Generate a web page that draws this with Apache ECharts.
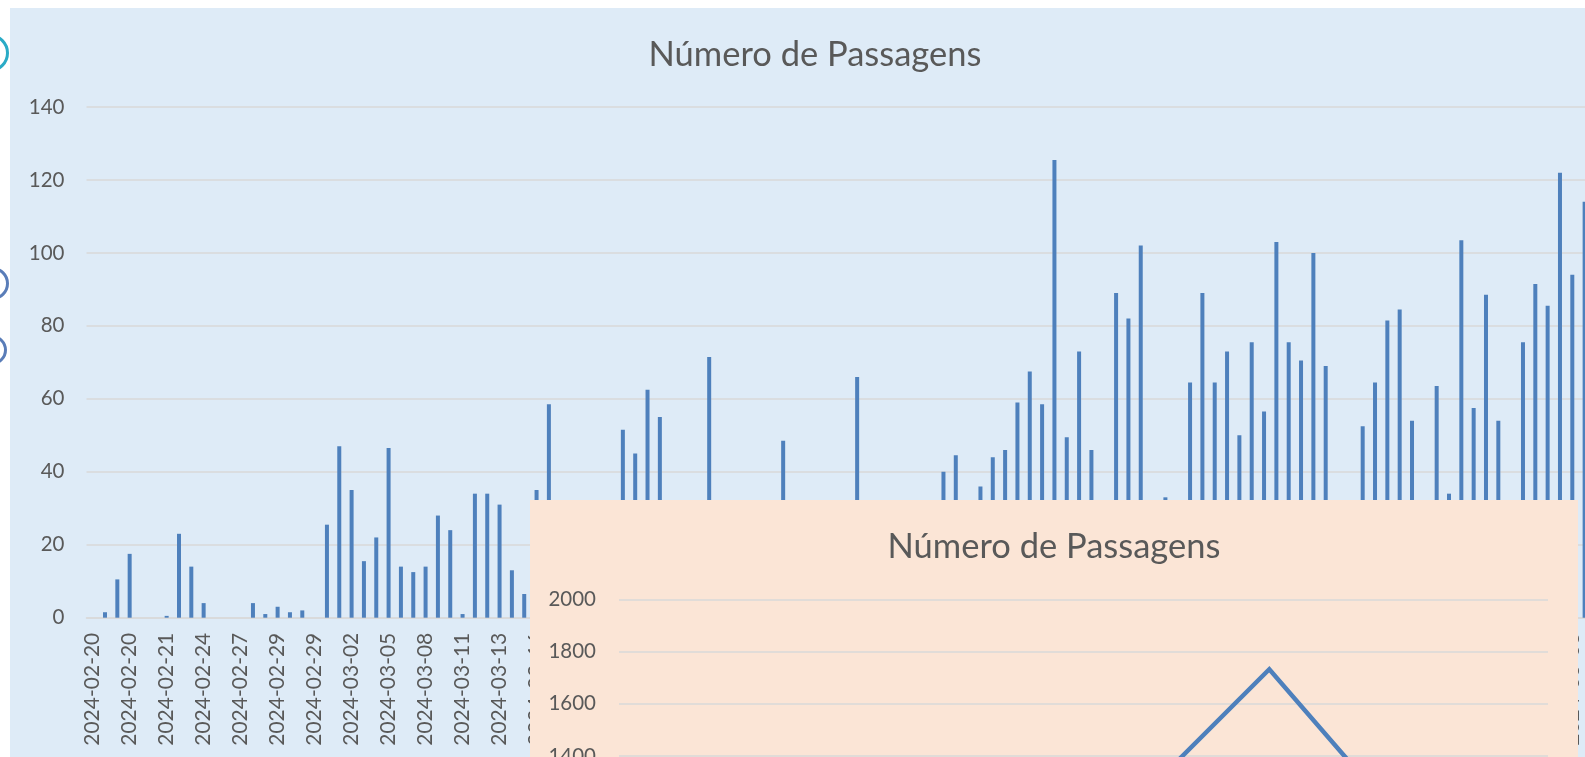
<!DOCTYPE html>
<html>
<head>
<meta charset="utf-8">
<title>Número de Passagens</title>
<script src="https://cdn.jsdelivr.net/npm/echarts@6/dist/echarts.min.js"></script>
<style>
    html, body { margin: 0; padding: 0; width: 1585px; height: 757px; overflow: hidden; background: #ffffff; }
    .ring { position: absolute; border-radius: 50%; box-sizing: border-box; }
    #panel { position: absolute; left: 10px; top: 8px; width: 1700px; height: 900px; background: #DEEBF7; }
    #dailyChart { position: absolute; left: 0; top: 0; width: 1630px; height: 757px; }
    #monthChart { position: absolute; left: 530px; top: 500px; width: 1048px; height: 720px; background: #FBE5D6; }
</style>
</head>
<body>
<div class="ring" style="left:-29px;top:34px;width:38px;height:38px;border:3px solid #2AABC6;"></div>
<div class="ring" style="left:-24px;top:267px;width:33px;height:33px;border:3px solid #5A7DB8;"></div>
<div class="ring" style="left:-23px;top:335px;width:30px;height:30px;border:3px solid #5A7DB8;"></div>
<div id="panel"></div>
<div id="dailyChart"></div>
<div id="monthChart"></div>
<script>
// passagens por registo (rótulos do eixo, um por barra)
var dayLabels = [
    '2024-02-20','2024-02-20','2024-02-20','2024-02-20','2024-02-21','2024-02-21','2024-02-21','2024-02-22',
    '2024-02-23','2024-02-24','2024-02-25','2024-02-26','2024-02-27','2024-02-28','2024-02-28','2024-02-29',
    '2024-02-29','2024-02-29','2024-02-29','2024-03-01','2024-03-01','2024-03-02','2024-03-03','2024-03-04',
    '2024-03-05','2024-03-06','2024-03-07','2024-03-08','2024-03-09','2024-03-10','2024-03-11','2024-03-12',
    '2024-03-12','2024-03-13','2024-03-14','2024-03-15','2024-03-16','2024-03-17','2024-03-18','2024-03-19',
    '2024-03-20','2024-03-21','2024-03-22','2024-03-23','2024-03-24','2024-03-25','2024-03-26','2024-03-27',
    '2024-03-28','2024-03-29','2024-03-30','2024-03-31','2024-04-01','2024-04-02','2024-04-03','2024-04-04',
    '2024-04-05','2024-04-06','2024-04-07','2024-04-08','2024-04-09','2024-04-10','2024-04-11','2024-04-12',
    '2024-04-13','2024-04-14','2024-04-15','2024-04-16','2024-04-17','2024-04-18','2024-04-19','2024-04-20',
    '2024-04-21','2024-04-22','2024-04-23','2024-04-24','2024-04-25','2024-04-26','2024-04-27','2024-04-28',
    '2024-04-29','2024-04-30','2024-05-01','2024-05-02','2024-05-03','2024-05-04','2024-05-05','2024-05-06',
    '2024-05-07','2024-05-08','2024-05-09','2024-05-10','2024-05-11','2024-05-12','2024-05-13','2024-05-14',
    '2024-05-15','2024-05-16','2024-05-17','2024-05-18','2024-05-19','2024-05-20','2024-05-21','2024-05-22',
    '2024-05-23','2024-05-24','2024-05-25','2024-05-26','2024-05-27','2024-05-28','2024-05-29','2024-05-30',
    '2024-05-31','2024-06-01','2024-06-02','2024-06-03','2024-06-04','2024-06-05','2024-06-06','2024-06-07',
    '2024-06-08','2024-06-09'
];

var dailyPassagens = [
    0, 1.5, 10.5, 17.5, 0, 0, 0.5, 23, 14, 4,
    0, 0, 0, 4, 1, 3, 1.5, 2, 0, 25.5,
    47, 35, 15.5, 22, 46.5, 14, 12.5, 14, 28, 24,
    1, 34, 34, 31, 13, 6.5, 35, 58.5, 12, 27,
    18, 9, 22, 51.5, 45, 62.5, 55, 24, 16, 29,
    71.5, 20, 11, 26, 30, 17, 48.5, 23, 14, 28,
    19, 25, 66, 21, 30, 13, 27, 18, 24, 40,
    44.5, 29, 36, 44, 46, 59, 67.5, 58.5, 125.5, 49.5,
    73, 46, 28, 89, 82, 102, 30, 33, 26, 64.5,
    89, 64.5, 73, 50, 75.5, 56.5, 103, 75.5, 70.5, 100,
    69, 27, 31, 52.5, 64.5, 81.5, 84.5, 54, 29, 63.5,
    34, 103.5, 57.5, 88.5, 54, 31, 75.5, 91.5, 85.5, 122,
    94, 114
];

// totais por mês
var monthLabels = ['fevereiro', 'março', 'abril', 'maio', 'junho'];
var monthPassagens = [85, 690, 1021, 1732, 910];

var textGray = '#595959';
var gridGray = '#D9D9D9';
var barBlue = '#4E80BC';
var fontName = 'Lato';

function plainNumber(v) {
    return String(v);
}

var dailyChart = echarts.init(document.getElementById('dailyChart'));
dailyChart.setOption({
    backgroundColor: 'transparent',
    animation: false,
    title: {
        text: 'Número de Passagens',
        left: 'center',
        top: 32,
        textStyle: { fontFamily: fontName, fontSize: 34.5, fontWeight: 'normal', color: textGray }
    },
    grid: { left: 86.5, right: 39.2, top: 107, bottom: 139.3 },
    xAxis: {
        type: 'category',
        data: dayLabels,
        axisTick: { show: false },
        axisLine: { lineStyle: { color: gridGray, width: 1.5 } },
        axisLabel: {
            interval: 2,
            rotate: 90,
            margin: 15,
            fontFamily: fontName,
            fontSize: 21,
            color: textGray
        }
    },
    yAxis: {
        type: 'value',
        min: 0,
        max: 140,
        interval: 20,
        axisLine: { show: false },
        axisTick: { show: false },
        splitLine: { lineStyle: { color: gridGray, width: 1.5 } },
        axisLabel: { margin: 22, fontFamily: fontName, fontSize: 20.5, color: textGray, formatter: plainNumber }
    },
    series: [{
        name: 'Passagens',
        type: 'bar',
        data: dailyPassagens,
        barWidth: 4,
        itemStyle: { color: barBlue }
    }]
});

var monthChart = echarts.init(document.getElementById('monthChart'));
monthChart.setOption({
    backgroundColor: 'transparent',
    animation: false,
    title: {
        text: 'Número de Passagens',
        left: 'center',
        top: 24,
        textStyle: { fontFamily: fontName, fontSize: 34.5, fontWeight: 'normal', color: textGray }
    },
    grid: { left: 89, right: 30, top: 99.3, bottom: 98.7 },
    xAxis: {
        type: 'category',
        data: monthLabels,
        axisTick: { show: false },
        axisLine: { lineStyle: { color: gridGray, width: 1.5 } },
        axisLabel: { fontFamily: fontName, fontSize: 20, color: textGray }
    },
    yAxis: {
        type: 'value',
        min: 0,
        max: 2000,
        interval: 200,
        axisLine: { show: false },
        axisTick: { show: false },
        splitLine: { lineStyle: { color: gridGray, width: 1.5 } },
        axisLabel: { margin: 23, fontFamily: fontName, fontSize: 20.5, color: textGray, formatter: plainNumber }
    },
    series: [{
        name: 'Passagens',
        type: 'line',
        data: monthPassagens,
        showSymbol: false,
        symbol: 'none',
        lineStyle: { color: barBlue, width: 4.5, join: 'miter' }
    }]
});
</script>
</body>
</html>
